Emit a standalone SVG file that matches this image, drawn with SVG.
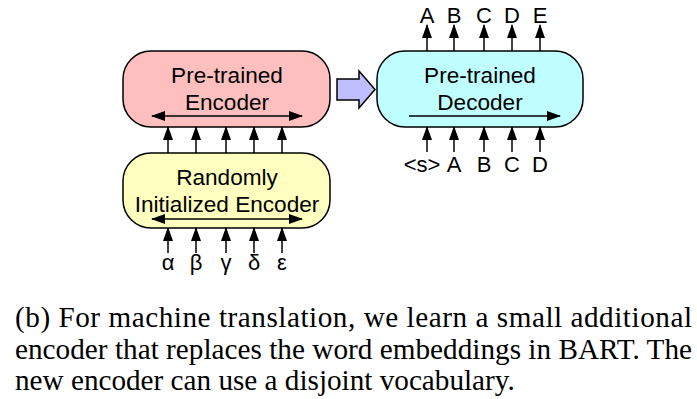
<svg xmlns="http://www.w3.org/2000/svg" width="697" height="399" viewBox="0 0 697 399">
<defs>
<style>
.box{stroke:#000;stroke-width:1.5}
.lbl{font-family:"Liberation Sans",Arial,sans-serif;font-size:22.6px;fill:#000;text-anchor:middle}
.tok{font-family:"Liberation Sans",Arial,sans-serif;font-size:22px;fill:#000;text-anchor:middle}
.cap{font-family:"Liberation Serif","Times New Roman",serif;font-size:29.2px;fill:#000}
.ln{stroke:#000;stroke-width:1.5;fill:none}
</style>
<marker id="ah" markerUnits="userSpaceOnUse" markerWidth="14" markerHeight="10" refX="13" refY="5" orient="auto-start-reverse" viewBox="0 0 14 10">
<path d="M0,0 L14,5 L0,10 Z" fill="#000"/>
</marker>
</defs>
<rect width="697" height="399" fill="#fff"/>
<g id="pretrained-encoder">
<rect class="box" x="123" y="51" width="207" height="76" rx="28" ry="28" fill="#ffbfbf"/>
<text class="lbl" x="227" y="83">Pre-trained</text>
<text class="lbl" x="227" y="110">Encoder</text>
</g>
<g id="random-encoder">
<rect class="box" x="123" y="153" width="207" height="75" rx="28" ry="28" fill="#ffffbf"/>
<text class="lbl" x="227" y="185">Randomly</text>
<text class="lbl" x="227" y="212">Initialized Encoder</text>
</g>
<g id="pretrained-decoder">
<rect class="box" x="377" y="51" width="206" height="76" rx="28" ry="28" fill="#bfffff"/>
<text class="lbl" x="480" y="83">Pre-trained</text>
<text class="lbl" x="480" y="110">Decoder</text>
</g>
<g id="transfer-arrow">
<path class="box" d="M337,79 L359,79 L359,71 L375,89.5 L359,108 L359,100 L337,100 Z" fill="#bfbfff"/>
</g>
<g id="connectors">
<line class="ln" x1="152" y1="116" x2="302" y2="116" marker-start="url(#ah)" marker-end="url(#ah)"/>
<line class="ln" x1="152" y1="219" x2="302" y2="219" marker-start="url(#ah)" marker-end="url(#ah)"/>
<line class="ln" x1="409" y1="116" x2="560" y2="116" marker-end="url(#ah)"/>
<line class="ln" x1="168" y1="153" x2="168" y2="127" marker-end="url(#ah)"/>
<line class="ln" x1="196" y1="153" x2="196" y2="127" marker-end="url(#ah)"/>
<line class="ln" x1="226" y1="153" x2="226" y2="127" marker-end="url(#ah)"/>
<line class="ln" x1="254" y1="153" x2="254" y2="127" marker-end="url(#ah)"/>
<line class="ln" x1="282" y1="153" x2="282" y2="127" marker-end="url(#ah)"/>
<line class="ln" x1="168" y1="253" x2="168" y2="228" marker-end="url(#ah)"/>
<line class="ln" x1="196" y1="253" x2="196" y2="228" marker-end="url(#ah)"/>
<line class="ln" x1="226" y1="253" x2="226" y2="228" marker-end="url(#ah)"/>
<line class="ln" x1="254" y1="253" x2="254" y2="228" marker-end="url(#ah)"/>
<line class="ln" x1="282" y1="253" x2="282" y2="228" marker-end="url(#ah)"/>
<line class="ln" x1="427" y1="51" x2="427" y2="25" marker-end="url(#ah)"/>
<line class="ln" x1="454" y1="51" x2="454" y2="25" marker-end="url(#ah)"/>
<line class="ln" x1="484" y1="51" x2="484" y2="25" marker-end="url(#ah)"/>
<line class="ln" x1="512" y1="51" x2="512" y2="25" marker-end="url(#ah)"/>
<line class="ln" x1="540" y1="51" x2="540" y2="25" marker-end="url(#ah)"/>
<line class="ln" x1="427" y1="152" x2="427" y2="127" marker-end="url(#ah)"/>
<line class="ln" x1="454" y1="152" x2="454" y2="127" marker-end="url(#ah)"/>
<line class="ln" x1="484" y1="152" x2="484" y2="127" marker-end="url(#ah)"/>
<line class="ln" x1="512" y1="152" x2="512" y2="127" marker-end="url(#ah)"/>
<line class="ln" x1="540" y1="152" x2="540" y2="127" marker-end="url(#ah)"/>
</g>
<g id="tokens">
<text class="tok" x="427" y="23">A</text>
<text class="tok" x="454" y="23">B</text>
<text class="tok" x="484" y="23">C</text>
<text class="tok" x="512" y="23">D</text>
<text class="tok" x="540" y="23">E</text>
<text class="tok" x="422" y="172">&lt;s&gt;</text>
<text class="tok" x="454" y="172">A</text>
<text class="tok" x="484" y="172">B</text>
<text class="tok" x="512" y="172">C</text>
<text class="tok" x="540" y="172">D</text>
<text class="tok" x="168" y="270">α</text>
<text class="tok" x="196" y="270">β</text>
<text class="tok" x="226" y="270">γ</text>
<text class="tok" x="254" y="270">δ</text>
<text class="tok" x="282" y="270">ε</text>
</g>
<g id="caption">
<text class="cap" x="15" y="327" textLength="677" lengthAdjust="spacing">(b)  For machine translation, we learn a small additional</text>
<text class="cap" x="15" y="359" textLength="677" lengthAdjust="spacing">encoder that replaces the word embeddings in BART. The</text>
<text class="cap" x="15" y="390">new encoder can use a disjoint vocabulary.</text>
</g>
</svg>
